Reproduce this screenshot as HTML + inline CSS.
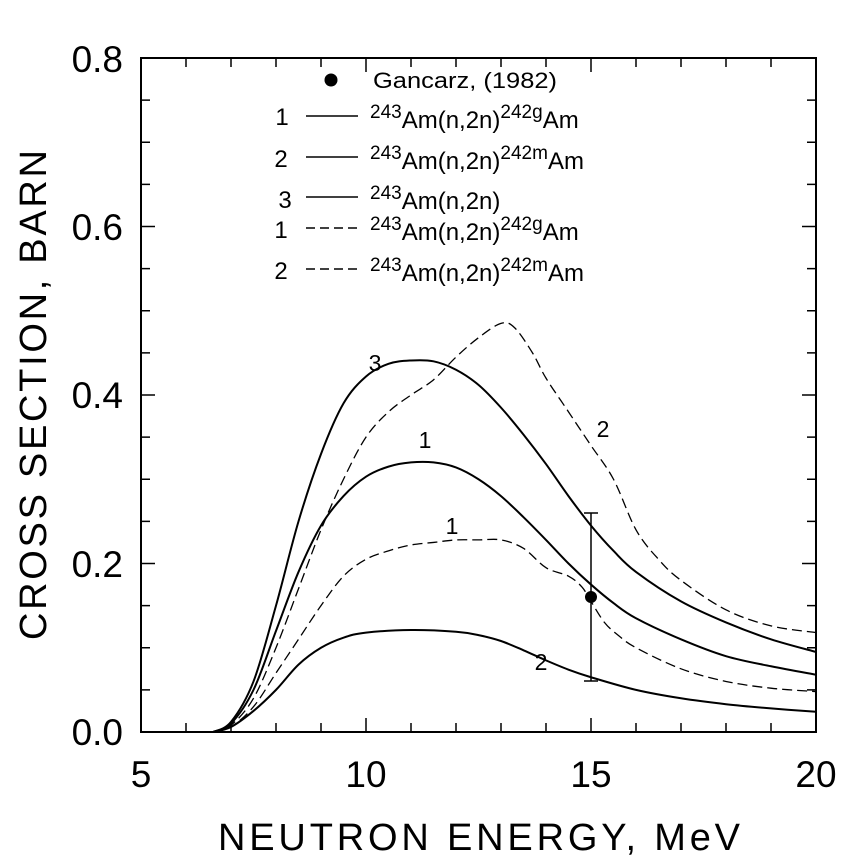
<!DOCTYPE html>
<html><head><meta charset="utf-8"><style>
body{margin:0;background:#fff}
svg{display:block;font-family:"Liberation Sans",Arial,sans-serif}
</style></head><body>
<svg id="s" width="850" height="863" viewBox="0 0 850 863" xmlns="http://www.w3.org/2000/svg">
<rect x="141" y="58" width="675" height="674" fill="none" stroke="#000" stroke-width="2"/>
<g id="ticks" stroke="#000" stroke-width="1.5"></g>
<g font-size="37" text-anchor="end">
<text x="123" y="745">0.0</text>
<text x="123" y="577">0.2</text>
<text x="123" y="408">0.4</text>
<text x="123" y="240">0.6</text>
<text x="123" y="72">0.8</text>
</g>
<g font-size="37" text-anchor="middle">
<text x="141" y="787">5</text>
<text x="366" y="787">10</text>
<text x="591" y="787">15</text>
<text x="816" y="787">20</text>
</g>
<text x="479" y="850" font-size="38" text-anchor="middle" textLength="522" lengthAdjust="spacing">NEUTRON  ENERGY,  MeV</text>
<text transform="translate(46,395) rotate(-90)" font-size="38" text-anchor="middle" textLength="490" lengthAdjust="spacing">CROSS  SECTION,  BARN</text>
<g id="curves" fill="none" stroke="#000"></g>
<g stroke="#000" stroke-width="1.5">
<line x1="591" y1="513" x2="591" y2="681"/>
<line x1="584" y1="513" x2="598" y2="513"/>
<line x1="584" y1="681" x2="598" y2="681"/>
</g>
<circle cx="591" cy="597" r="6" fill="#000"/>
<g font-size="23" text-anchor="middle">
<text x="375" y="371">3</text>
<text x="425" y="448">1</text>
<text x="452" y="534">1</text>
<text x="541" y="670">2</text>
<text x="603" y="437">2</text>
</g>
<circle cx="331" cy="80" r="6.5" fill="#000"/>
<text x="373" y="88" font-size="22" textLength="184" lengthAdjust="spacingAndGlyphs">Gancarz, (1982)</text>
<g font-size="24" text-anchor="middle">
<text x="282" y="125">1</text>
<text x="281" y="167">2</text>
<text x="285" y="208">3</text>
<text x="281" y="238">1</text>
<text x="281" y="279">2</text>
</g>
<g stroke="#000" stroke-width="1.5">
<line x1="306" y1="116" x2="358" y2="116"/>
<line x1="306" y1="157" x2="358" y2="157"/>
<line x1="306" y1="197" x2="358" y2="197"/>
<line x1="306" y1="228" x2="358" y2="228" stroke-dasharray="9,5"/>
<line x1="306" y1="269" x2="358" y2="269" stroke-dasharray="9,5"/>
</g>
<g font-size="24">
<text x="370" y="128"><tspan font-size="19" dy="-10">243</tspan><tspan dy="10">Am(n,2n)</tspan><tspan font-size="19" dy="-10">242g</tspan><tspan dy="10">Am</tspan></text>
<text x="370" y="169"><tspan font-size="19" dy="-10">243</tspan><tspan dy="10">Am(n,2n)</tspan><tspan font-size="19" dy="-10">242m</tspan><tspan dy="10">Am</tspan></text>
<text x="370" y="209"><tspan font-size="19" dy="-10">243</tspan><tspan dy="10">Am(n,2n)</tspan></text>
<text x="370" y="240"><tspan font-size="19" dy="-10">243</tspan><tspan dy="10">Am(n,2n)</tspan><tspan font-size="19" dy="-10">242g</tspan><tspan dy="10">Am</tspan></text>
<text x="370" y="281"><tspan font-size="19" dy="-10">243</tspan><tspan dy="10">Am(n,2n)</tspan><tspan font-size="19" dy="-10">242m</tspan><tspan dy="10">Am</tspan></text>
</g>
</svg>
<script>
var NS="http://www.w3.org/2000/svg";
function X(e){return 141+45*(e-5);}
function Y(v){return 732-842.5*v;}
var t=document.getElementById("ticks"),h="";
for(var e=6;e<20;e++){var L=(e%5==0)?14:9;h+='<line x1="'+X(e)+'" y1="732" x2="'+X(e)+'" y2="'+(732-L)+'"/><line x1="'+X(e)+'" y1="58" x2="'+X(e)+'" y2="'+(58+L)+'"/>';}
for(var i=1;i<16;i++){var v=i*0.05,L=(i%4==0)?14:9;h+='<line x1="141" y1="'+Y(v)+'" x2="'+(141+L)+'" y2="'+Y(v)+'"/><line x1="816" y1="'+Y(v)+'" x2="'+(816-L)+'" y2="'+Y(v)+'"/>';}
t.innerHTML=h;
var C=[
 [false,[[6.6,0],[7,0.012],[7.5,0.06],[8,0.15],[8.5,0.25],[9,0.33],[9.5,0.39],[10,0.422],[10.5,0.437],[11,0.441],[11.5,0.44],[12,0.43],[12.5,0.412],[13,0.385],[13.5,0.353],[14,0.318],[14.5,0.28],[15,0.245],[15.5,0.215],[16,0.19],[17,0.155],[18,0.13],[19,0.11],[20,0.095]]],
 [false,[[6.6,0],[7,0.01],[7.5,0.05],[8,0.12],[8.5,0.19],[9,0.245],[9.5,0.28],[10,0.303],[10.5,0.315],[11,0.32],[11.5,0.32],[12,0.314],[12.5,0.3],[13,0.28],[13.5,0.255],[14,0.228],[14.5,0.2],[15,0.175],[15.5,0.153],[16,0.135],[17,0.11],[18,0.09],[19,0.078],[20,0.068]]],
 [false,[[6.6,0],[7,0.006],[7.5,0.025],[8,0.05],[8.5,0.08],[9,0.1],[9.5,0.112],[10,0.118],[11,0.121],[12,0.119],[12.5,0.115],[13,0.108],[13.5,0.097],[14,0.085],[14.5,0.074],[15,0.065],[16,0.05],[17,0.04],[18,0.033],[19,0.028],[20,0.024]]],
 [true,[[6.6,0],[7,0.008],[7.5,0.04],[8,0.1],[8.5,0.17],[9,0.24],[9.5,0.3],[10,0.35],[10.5,0.38],[11,0.4],[11.5,0.418],[12,0.445],[12.5,0.468],[13,0.485],[13.3,0.48],[13.7,0.45],[14,0.42],[14.5,0.38],[15,0.34],[15.5,0.3],[16,0.24],[16.5,0.205],[17,0.18],[18,0.145],[19,0.126],[20,0.118]]],
 [true,[[6.6,0],[7,0.006],[7.5,0.03],[8,0.07],[8.5,0.11],[9,0.15],[9.5,0.185],[10,0.205],[10.5,0.215],[11,0.222],[11.5,0.225],[12,0.228],[12.5,0.228],[13,0.228],[13.5,0.218],[14,0.195],[14.5,0.185],[14.8,0.172],[15,0.155],[15.3,0.13],[15.6,0.115],[16,0.1],[17,0.075],[18,0.06],[19,0.052],[20,0.048]]]
];
var g=document.getElementById("curves");
C.forEach(function(c){
 var p=c[1].map(function(q){return [X(q[0]),Y(q[1])];});
 var d="M"+p[0][0]+","+p[0][1];
 for(var i=0;i<p.length-1;i++){
  var p0=p[Math.max(0,i-1)],p1=p[i],p2=p[i+1],p3=p[Math.min(p.length-1,i+2)];
  d+=" C"+(p1[0]+(p2[0]-p0[0])/6)+","+(p1[1]+(p2[1]-p0[1])/6)+" "+(p2[0]-(p3[0]-p1[0])/6)+","+(p2[1]-(p3[1]-p1[1])/6)+" "+p2[0]+","+p2[1];
 }
 var e=document.createElementNS(NS,"path");
 e.setAttribute("d",d);
 e.setAttribute("stroke-width",c[0]?"1.3":"2");
 if(c[0])e.setAttribute("stroke-dasharray","10,5");
 g.appendChild(e);
});
</script>
</body></html>
